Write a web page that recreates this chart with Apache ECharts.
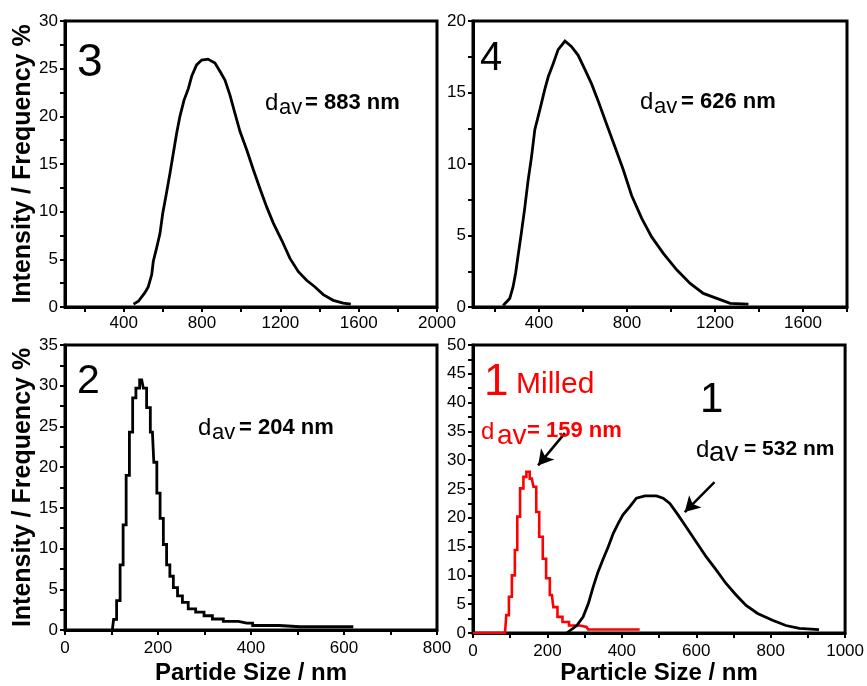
<!DOCTYPE html>
<html><head><meta charset="utf-8">
<script src="https://cdn.jsdelivr.net/npm/echarts@6/dist/echarts.min.js"></script>
<style>html,body{margin:0;padding:0;background:#fff}#c{width:867px;height:686px}</style>
</head><body><div id="c"></div>
<script>
// ---- data ----
// Panel 3 (top-left)
const p3X = [450, 475, 508, 525, 543, 551, 568, 585, 599, 616, 636, 653, 670, 687, 708, 730, 747, 772, 798, 830, 866, 892, 917, 943, 968, 994, 1028, 1062, 1096, 1130, 1164, 1207, 1249, 1292, 1334, 1377, 1419, 1470, 1521, 1560];
const p3Y = [0.3, 0.6, 1.5, 2.1, 3.4, 4.8, 6.2, 7.7, 9.8, 11.7, 14.0, 16.1, 18.2, 20.0, 21.7, 22.9, 24.2, 25.4, 25.9, 26.0, 25.6, 24.7, 23.8, 22.2, 20.3, 18.4, 16.5, 14.4, 12.4, 10.5, 8.8, 7.0, 5.1, 3.7, 2.8, 2.1, 1.3, 0.7, 0.4, 0.3];
// Panel 4 (top-right)
const p4X = [237, 267, 282, 294, 305, 320, 335, 350, 366, 381, 404, 426, 442, 464, 487, 518, 548, 578, 609, 639, 669, 707, 745, 783, 821, 867, 912, 965, 1026, 1087, 1147, 1208, 1269, 1352];
const p4Y = [0.1, 0.6, 1.4, 2.4, 3.6, 5.2, 6.9, 8.8, 10.5, 12.4, 13.8, 15.2, 16.1, 17.0, 18.0, 18.6, 18.2, 17.6, 16.6, 15.6, 14.4, 12.8, 11.2, 9.6, 7.8, 6.2, 4.9, 3.75, 2.6, 1.65, 0.95, 0.6, 0.25, 0.2];
// Panel 2 (bottom-left)
const p2X = [102, 107, 115, 122, 128, 135, 142, 149, 156, 165, 172, 179, 188, 194, 201, 208, 215, 222, 229, 237, 247, 258, 272, 290, 308, 326, 355, 391, 416, 505, 620];
const p2Y = [0.1, 1.3, 3.6, 8.0, 12.9, 19.0, 24.3, 28.5, 29.7, 30.7, 29.7, 27.3, 24.3, 20.6, 16.8, 13.7, 10.5, 8.0, 6.6, 5.2, 4.2, 3.4, 2.6, 2.2, 1.75, 1.35, 1.05, 0.85, 0.55, 0.4, 0.4];
// Panel 1 milled (red)
const p1mX = [0, 86, 93, 100, 109, 116, 122, 131, 140, 147, 158, 167, 173, 183, 192, 201, 212, 220, 234, 247, 269, 305, 314, 448];
const p1mY = [0, 0, 3.1, 6.3, 10.0, 14.4, 20.2, 25.1, 27.1, 28.0, 26.8, 25.4, 21.0, 16.7, 12.9, 9.5, 6.6, 4.5, 2.8, 1.9, 1.3, 1.05, 0.6, 0.6];
// Panel 1 (black)
const p1X = [252, 279, 296, 310, 323, 336, 350, 363, 377, 390, 403, 421, 439, 462, 493, 511, 529, 551, 573, 600, 627, 654, 680, 707, 734, 765, 805, 841, 877, 930];
const p1Y = [0, 1.3, 2.8, 5.1, 8.0, 10.6, 12.9, 14.9, 17.3, 19.0, 20.5, 21.9, 23.4, 23.8, 23.8, 23.4, 22.5, 20.5, 18.4, 15.8, 13.2, 10.9, 8.6, 6.6, 4.8, 3.4, 2.2, 1.3, 0.8, 0.6];

// tick labels / tick positions
const xLab3 = [400, 800, 1200, 1600, 2000];
const xTick3 = [200, 400, 600, 800, 1000, 1200, 1400, 1600, 1800, 2000];
const xLab4 = [400, 800, 1200, 1600];
const xTick4 = [200, 400, 600, 800, 1000, 1200, 1400, 1600, 1800];
const xLab2 = [0, 200, 400, 600, 800];
const xTick2 = [0, 100, 200, 300, 400, 500, 600, 700, 800];
const xLab1 = [0, 200, 400, 600, 800, 1000];
const xTick1 = [0, 100, 200, 300, 400, 500, 600, 700, 800, 900, 1000];
const yLab3 = [0, 5, 10, 15, 20, 25, 30];
const yLab4 = [0, 5, 10, 15, 20];
const yLab2 = [0, 5, 10, 15, 20, 25, 30, 35];
const yLab1 = [0, 5, 10, 15, 20, 25, 30, 35, 40, 45, 50];
const yTick3 = [0, 2.5, 5, 7.5, 10, 12.5, 15, 17.5, 20, 22.5, 25, 27.5, 30];
const yTick4 = [0, 2.5, 5, 7.5, 10, 12.5, 15, 17.5, 20];
const yTick2 = [0, 2.5, 5, 7.5, 10, 12.5, 15, 17.5, 20, 22.5, 25, 27.5, 30, 32.5, 35];
const yTick1 = [0, 2.5, 5, 7.5, 10, 12.5, 15, 17.5, 20, 22.5, 25, 27.5, 30, 32.5, 35, 37.5, 40, 42.5, 45, 47.5, 50];

const yTitle = 'Intensity / Frequency %';

// ---- chart ----
const FONT = '"Liberation Sans", Arial, sans-serif';
const zip = (a, b) => a.map((v, i) => [v, b[i]]);
const plain = v => String(v);

function mkGrid(l, t, w, h) {
  return {left: l, top: t, width: w, height: h, show: true, borderColor: '#000', borderWidth: 3, backgroundColor: 'transparent'};
}
function mkX(i, min, max, labels, ticks, margin, name, gap) {
  const a = {
    type: 'value', gridIndex: i, min: min, max: max,
    axisLine: {show: true, onZero: false, lineStyle: {color: '#000', width: 3}},
    axisTick: {show: true, inside: false, length: 5, customValues: ticks, lineStyle: {color: '#000', width: 2}},
    axisLabel: {customValues: labels, formatter: plain, color: '#000', fontSize: 17, fontFamily: FONT, margin: margin},
    splitLine: {show: false}
  };
  if (name) {
    a.name = name; a.nameLocation = 'middle'; a.nameGap = gap;
    a.nameTextStyle = {fontSize: 24, fontWeight: 'bold', fontFamily: FONT, color: '#000'};
  }
  return a;
}
function mkY(i, max, labels, ticks, name) {
  const a = {
    type: 'value', gridIndex: i, min: 0, max: max,
    axisLine: {show: true, onZero: false, lineStyle: {color: '#000', width: 3}},
    axisTick: {show: true, inside: false, length: 5, customValues: ticks, lineStyle: {color: '#000', width: 2}},
    axisLabel: {customValues: labels, formatter: plain, color: '#000', fontSize: 17, fontFamily: FONT, margin: 7},
    splitLine: {show: false}
  };
  if (name) {
    a.name = name; a.nameLocation = 'middle'; a.nameGap = 28;
    a.nameTextStyle = {fontSize: 25, fontWeight: 'bold', fontFamily: FONT, color: '#000'};
  }
  return a;
}
function txt(x, y, text, size, weight, color) {
  return {type: 'text', x: x, y: y, z: 100, silent: true,
    style: {text: text, font: weight + ' ' + size + 'px ' + FONT, fill: color}};
}
function line(xi, data, color, w, step) {
  return {type: 'line', xAxisIndex: xi, yAxisIndex: xi, data: data, step: step, symbol: 'none',
    lineStyle: {color: color, width: w, join: 'miter'}, itemStyle: {color: color}, silent: true};
}

const s1 = line(3, zip(p1X, p1Y), '#000', 2.8, false);
s1.markLine = {
  silent: true, symbol: ['none', 'arrow'], symbolSize: [13, 15],
  lineStyle: {color: '#000', width: 2.5, type: 'solid'}, label: {show: false},
  data: [
    [{coord: [247, 34.7]}, {coord: [175, 29.1]}],
    [{coord: [649, 26.2]}, {coord: [569, 21.0]}]
  ]
};

const option = {
  animation: false,
  backgroundColor: '#fff',
  grid: [mkGrid(65, 21, 372, 286), mkGrid(473, 21, 374, 286), mkGrid(65, 345, 372, 288), mkGrid(473, 345, 373, 288)],
  xAxis: [
    mkX(0, 100, 2000, xLab3, xTick3, 8),
    mkX(1, 100, 1800, xLab4, xTick4, 8),
    mkX(2, 0, 800, xLab2, xTick2, 10, 'Partide Size / nm', 31),
    mkX(3, 0, 1000, xLab1, xTick1, 10, 'Particle Size / nm', 28)
  ],
  yAxis: [
    mkY(0, 30, yLab3, yTick3, yTitle),
    mkY(1, 20, yLab4, yTick4),
    mkY(2, 35, yLab2, yTick2, yTitle),
    mkY(3, 50, yLab1, yTick1)
  ],
  series: [
    line(0, zip(p3X, p3Y), '#000', 2.8, false),
    line(1, zip(p4X, p4Y), '#000', 2.8, false),
    line(2, zip(p2X, p2Y), '#000', 2.8, 'middle'),
    line(3, zip(p1mX, p1mY), '#ff0000', 2.6, 'middle'),
    s1
  ],
  graphic: [
    txt(77, 40, '3', 46, 'normal', '#000'),
    txt(480, 39, '4', 40, 'normal', '#000'),
    txt(77, 361, '2', 41, 'normal', '#000'),
    // panel 3
    txt(265, 91, 'd', 24, 'normal', '#000'),
    txt(279, 97, 'av', 22, 'normal', '#000'),
    txt(305, 92, '= 883 nm', 22, 'bold', '#000'),
    // panel 4
    txt(640, 90, 'd', 24, 'normal', '#000'),
    txt(654, 96, 'av', 22, 'normal', '#000'),
    txt(681, 91, '= 626 nm', 22, 'bold', '#000'),
    // panel 2
    txt(198, 416, 'd', 24, 'normal', '#000'),
    txt(212, 422, 'av', 22, 'normal', '#000'),
    txt(239, 417, '= 204 nm', 22, 'bold', '#000'),
    // panel 1 milled
    txt(484, 361, '1', 44, 'normal', '#ff0000'),
    txt(516, 370, 'Milled', 30, 'normal', '#ff0000'),
    txt(481, 420, 'd', 24, 'normal', '#ff0000'),
    txt(497, 422, 'av', 28, 'normal', '#ff0000'),
    txt(527, 420, '= 159 nm', 22, 'bold', '#ff0000'),
    // panel 1
    txt(700, 379, '1', 42, 'normal', '#000'),
    txt(696, 438, 'd', 24, 'normal', '#000'),
    txt(709, 439, 'av', 28, 'normal', '#000'),
    txt(744, 439, '= 532 nm', 21, 'bold', '#000')
  ]
};
const chart = echarts.init(document.getElementById('c'), null, {renderer: 'canvas'});
chart.setOption(option);
</script></body></html>
